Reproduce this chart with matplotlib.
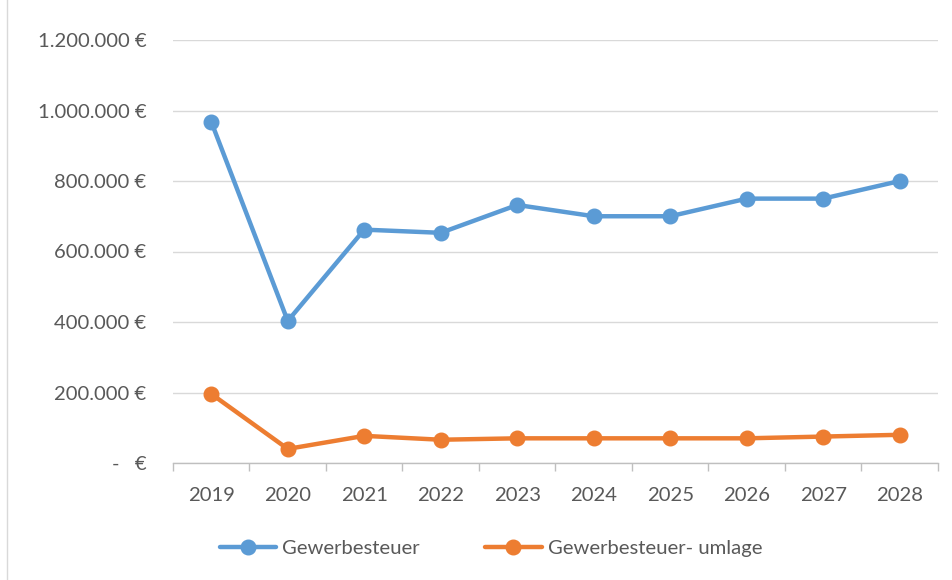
import matplotlib
matplotlib.use("Agg")
import matplotlib.pyplot as plt
import numpy as np
from matplotlib.ticker import FixedLocator, FuncFormatter

years = ["2019", "2020", "2021", "2022", "2023", "2024", "2025", "2026", "2027", "2028"]
gewerbesteuer = [968000, 403000, 662000, 653000, 732000, 700000, 700000, 750000, 750000, 800000]
umlage = [196000, 40000, 77000, 66000, 70000, 70000, 70000, 70000, 75000, 80000]
series_names = ["Gewerbesteuer", "Gewerbesteuer- umlage"]

plt.rcParams['font.family'] = ['Lato', 'DejaVu Sans']
txt = '#595959'
fs = 14.6

fig = plt.figure(figsize=(9.53, 5.8), dpi=100)
ax = fig.add_axes([173/953, (580-463)/580, (938-173)/953, (463-40)/580])

x = np.arange(len(years))
ax.plot(x, gewerbesteuer, color='#5B9BD5', lw=3.2, marker='o', ms=10.5, label=series_names[0], solid_capstyle='round')
ax.plot(x, umlage, color='#ED7D31', lw=3.2, marker='o', ms=10.5, label=series_names[1], solid_capstyle='round')

ax.set_xlim(-0.5, len(years) - 0.5)
ax.set_ylim(0, 1200000)
ax.set_yticks(np.arange(0, 1200001, 200000))

def fmt(v, pos):
    if v == 0:
        return "-   €"
    return f"{int(v):,}".replace(",", ".") + " €"
ax.yaxis.set_major_formatter(FuncFormatter(fmt))
ax.set_xticks(x)
ax.set_xticklabels(years)
ax.xaxis.set_minor_locator(FixedLocator(np.arange(-0.5, len(years), 1.0)))
ax.tick_params(axis='x', which='major', length=0, pad=17, labelsize=fs, labelcolor=txt)
ax.tick_params(axis='x', which='minor', length=6, color='#BFBFBF', width=1)
ax.tick_params(axis='y', length=0, pad=19, labelsize=fs, labelcolor=txt)

ax.grid(axis='y', color='#D9D9D9', lw=1)
ax.set_axisbelow(True)
for s in ['top', 'right', 'left']:
    ax.spines[s].set_visible(False)
ax.spines['bottom'].set_color('#BFBFBF')
ax.spines['bottom'].set_linewidth(1)

leg = fig.legend(loc='center', bbox_to_anchor=(491/953, 1 - 548/580), ncol=2, frameon=False,
                 fontsize=fs, labelcolor=txt, handlelength=2.8, columnspacing=3.2, handletextpad=0.3)

# chart border
fig.add_artist(plt.Line2D([7/953, 7/953], [0, 1], color='#D9D9D9', lw=1, transform=fig.transFigure))

fig.savefig("out.png", dpi=100)
